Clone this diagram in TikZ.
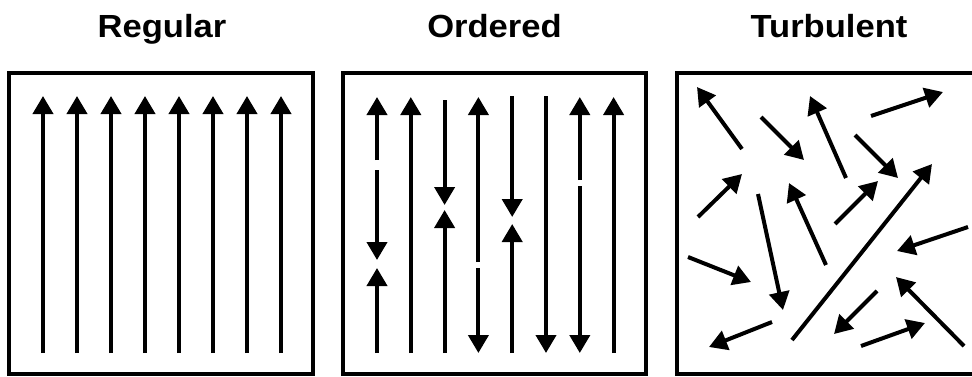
\documentclass[tikz,border=0pt]{standalone}
\usepackage{fontspec}
\newfontfamily\titlefont[FakeStretch=1.08]{Liberation Sans}
\usetikzlibrary{arrows.meta}
\begin{document}
\begin{tikzpicture}[x=1pt,y=-1pt,
  arr/.style={line width=4pt,-{Triangle[length=18pt,width=20pt]}},
  frame/.style={line width=3.8pt},
  title/.style={anchor=base,inner sep=0pt,font=\titlefont\bfseries\fontsize{32}{38}\selectfont}]
\useasboundingbox (0,0) rectangle (972,376);
\clip (0,0) rectangle (972,376);
% titles
\node[title] (t1) at (162,37) {Regular};
\node[title] (t2) at (494.5,37) {Ordered};
\node[title] (t3) at (829,37) {Turbulent};
% frames
\draw[frame] (9,73) rectangle (313,374);
\draw[frame] (343,73) rectangle (646,374);
\draw[frame] (677,73) rectangle (981,374);
% regular
\foreach \i in {0,...,7} \draw[arr] (43+34*\i,353) -- (43+34*\i,96);
% ordered
\draw[arr] (377,160) -- (377,97);
\draw[arr] (377,170) -- (377,260);
\draw[arr] (377,353) -- (377,268);
\draw[arr] (410.8,353) -- (410.8,97);
\draw[arr] (444.6,100) -- (444.6,205);
\draw[arr] (444.6,353) -- (444.6,210);
\draw[arr] (478.4,262) -- (478.4,97);
\draw[arr] (478.4,268) -- (478.4,353);
\draw[arr] (512.2,96) -- (512.2,217);
\draw[arr] (512.2,353) -- (512.2,224);
\draw[arr] (546,96) -- (546,353);
\draw[arr] (579.8,180) -- (579.8,97);
\draw[arr] (579.8,186) -- (579.8,353);
\draw[arr] (613.6,353) -- (613.6,97);
% turbulent
\draw[arr] (742,149) -- (697,87);
\draw[arr] (761,117) -- (804,160);
\draw[arr] (846,178) -- (810,96);
\draw[arr] (871,116) -- (943,92);
\draw[arr] (855,135) -- (898,178);
\draw[arr] (698,217) -- (742,174);
\draw[arr] (758,194) -- (783,310);
\draw[arr] (826,265) -- (789,183);
\draw[arr] (835,224) -- (878,181);
\draw[arr] (792,340) -- (932,164);
\draw[arr] (968,227) -- (897,251);
\draw[arr] (688,257) -- (751,282);
\draw[arr] (772,322) -- (709,347);
\draw[arr] (877,291) -- (834,334);
\draw[arr] (964,346) -- (896,277);
\draw[arr] (861,346) -- (925,323);
\end{tikzpicture}
\end{document}
